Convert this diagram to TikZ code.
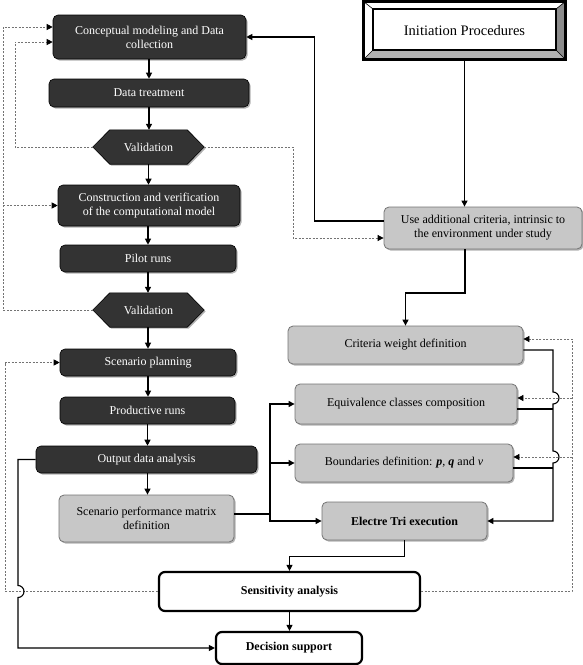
\documentclass[tikz,border=0pt]{standalone}
\usepackage{fontspec}
\setmainfont{Liberation Serif}
\usetikzlibrary{arrows.meta,backgrounds,shadows,calc}
\begin{document}
\begin{tikzpicture}[x=1pt,y=-1pt,
  font=\fontsize{12}{14}\selectfont,
  shad/.style={drop shadow={shadow xshift=1.5pt,shadow yshift=-1.5pt,opacity=0.3,fill=black}},
  darkbox/.style={rectangle,rounded corners=5pt,fill=black!80,draw=black,line width=0.6pt,text=white,inner sep=0pt,align=center,shad},
  lightbox/.style={rectangle,rounded corners=5pt,fill=black!22,draw=black!55,line width=0.8pt,inner sep=0pt,align=center,shad},
  whitebox/.style={rectangle,rounded corners=6pt,fill=white,draw=black,line width=2.2pt,inner sep=0pt,align=center,font=\fontsize{12}{14}\selectfont\bfseries},
  hexnode/.style={inner sep=0pt,text=white,minimum width=111,minimum height=34},
  tip/.style={-{Triangle[length=6pt,width=6pt,color=black]}},
  con/.style={line width=1.1pt,draw=black},
  arr/.style={con,tip},
  dsh/.style={line width=0.8pt,draw=black!55,dash pattern=on 2pt off 1.5pt},
  dsharr/.style={dsh,tip}]
\useasboundingbox (0,0) rectangle (583,665);

% ---------- Initiation Procedures (bevelled frame) ----------
\fill[white] (363.5,1.5) -- (565.5,1.5) -- (556,9) -- (373,9) -- cycle;
\fill[white] (363.5,1.5) -- (373,9) -- (373,50) -- (363.5,59.5) -- cycle;
\fill[black!45] (565.5,1.5) -- (565.5,59.5) -- (556,50) -- (556,9) -- cycle;
\fill[black!30] (363.5,59.5) -- (565.5,59.5) -- (556,50) -- (373,50) -- cycle;
\draw[line width=0.6pt] (363.5,1.5) -- (373,9) (565.5,1.5) -- (556,9)
  (363.5,59.5) -- (373,50) (565.5,59.5) -- (556,50);
\draw[line width=3pt] (363.5,1.5) rectangle (565.5,59.5);
\draw[line width=2pt,fill=white] (373,9) rectangle (556,50);
\node (ip) at (464.5,30.5) [minimum width=202,minimum height=58,inner sep=0pt,
  font=\fontsize{14.5}{16}\selectfont] {Initiation Procedures};

% ---------- left column ----------
\node[darkbox,minimum width=193,minimum height=44] (c1) at (149.5,37) {Conceptual modeling and Data\\collection};
\node[darkbox,minimum width=200,minimum height=28] (dt) at (149,93) {Data treatment};
\node[hexnode] (v1) at (148.5,147) {Validation};
\node[darkbox,minimum width=182,minimum height=41] (cv) at (149,205.5) {Construction and verification\\of the computational model};
\node[darkbox,minimum width=176,minimum height=27] (pr1) at (148,258.5) {Pilot runs};
\node[hexnode] (v2) at (148.5,310) {Validation};
\node[darkbox,minimum width=176,minimum height=27] (sp) at (148,362.5) {Scenario planning};
\node[darkbox,minimum width=175,minimum height=27] (prr) at (147.5,410.5) {Productive runs};
\node[darkbox,minimum width=221,minimum height=27] (oda) at (146.5,459.5) {Output data analysis};
\node[lightbox,minimum width=175,minimum height=47] (spm) at (146.5,518.5) {Scenario performance matrix\\definition};

\begin{scope}[on background layer]
  \foreach \v in {v1,v2}{
    \fill[black!30] ([xshift=1.5pt,yshift=-1.5pt]\v.west) -- ([xshift=18.5pt,yshift=-1.5pt]\v.north west)
      -- ([xshift=-15.5pt,yshift=-1.5pt]\v.north east) -- ([xshift=1.5pt,yshift=-1.5pt]\v.east)
      -- ([xshift=-15.5pt,yshift=-1.5pt]\v.south east) -- ([xshift=18.5pt,yshift=-1.5pt]\v.south west) -- cycle;
    \filldraw[fill=black!80,draw=black,line width=0.6pt] (\v.west) -- ([xshift=17pt]\v.north west)
      -- ([xshift=-17pt]\v.north east) -- (\v.east)
      -- ([xshift=-17pt]\v.south east) -- ([xshift=17pt]\v.south west) -- cycle;
  }
\end{scope}

% ---------- right column ----------
\node[lightbox,minimum width=198,minimum height=42] (uac) at (483,228) {Use additional criteria, intrinsic to\\the environment under study};
\node[lightbox,minimum width=235,minimum height=38] (cwd) at (405.5,345) {Criteria weight definition};
\node[lightbox,minimum width=222,minimum height=40] (ecc) at (406,404) {Equivalence classes composition};
\node[lightbox,minimum width=218,minimum height=38] (bd) at (404,463) {Boundaries definition: \textbf{\textit{p}}, \textbf{\textit{q}} and \textit{v}};
\node[lightbox,minimum width=165,minimum height=38,font=\fontsize{12}{14}\selectfont\bfseries] (et) at (404.5,521) {Electre Tri execution};

% ---------- bottom ----------
\node[whitebox,minimum width=261,minimum height=39] (sa) at (289.5,591.5) {Sensitivity analysis};
\node[whitebox,minimum width=146,minimum height=32] (ds) at (289,648) {Decision support};

% ---------- main column arrows ----------
\draw[arr] (c1.south -| dt.north) -- (dt.north);
\draw[arr] (dt.south) -- (dt.south |- v1.north);
\draw[arr] (v1.south) -- (v1.south |- cv.north);
\draw[arr] (cv.south -| pr1.north) -- (pr1.north);
\draw[arr] (pr1.south) -- (pr1.south |- v2.north);
\draw[arr] (v2.south -| sp.north) -- (sp.north);
\draw[arr] (sp.south) -- (sp.south |- prr.north);
\draw[arr] (prr.south) -- (prr.south |- oda.north);
\draw[arr] (prr.south |- oda.south) -- (prr.south |- spm.north);

% ---------- initiation / additional criteria ----------
\draw[arr] (ip.south) -- (ip.south |- uac.north);
\draw[arr] ([yshift=7pt]uac.west) -- ++(-69,0) |- (c1.east);
\coordinate (k1) at (465,293);
\draw[arr] ([xshift=-18pt]uac.south) -- (k1) -| (cwd.north);

% ---------- dashed feedback ----------
\draw[dsharr] (v1.west) -- (15,147) |- ([yshift=-5pt]c1.west);
\draw[dsharr] (v2.west) -- (3,310) |- ([yshift=10pt]c1.west);
\coordinate (k2) at (3,205.5);
\draw[dsharr] (k2) -- (cv.west);
\draw[dsharr] (v1.east) -- (293,147) |- ([yshift=-10pt]uac.west);
\draw[dsharr] (sa.west) -- (5,591.5) |- (sp.west);
\draw[dsharr] (sa.east) -- (572,591.5) |- ([yshift=6pt]cwd.east);
\coordinate (k3) at (572,398);
\coordinate (k4) at (572,457);
\draw[dsharr] (k3) -- ([yshift=6pt]ecc.east);
\draw[dsharr] (k4) -- ([yshift=6pt]bd.east);

% ---------- solid connections right ----------
\draw[arr] ([yshift=-5pt]cwd.east) -- (553,350) -- (553,392)
  arc[start angle=90,end angle=-90,radius=6pt] -- (553,451)
  arc[start angle=90,end angle=-90,radius=6pt] -- (553,521) -- (et.east);
\draw[con] ([yshift=-5pt]ecc.east) -- (553,409);
\draw[con] ([yshift=-5pt]bd.east) -- (553,468);

\coordinate (k5) at (270,514);
\draw[con] ([yshift=4.5pt]spm.east) -- (k5);
\draw[arr] (k5) |- (ecc.west);
\draw[arr] (k5) |- (bd.west);
\draw[arr] (k5) |- (et.west);

\draw[arr] (oda.west) -- (18,459.5) -- (18,585.5)
  arc[start angle=90,end angle=-90,radius=6pt] -- (18,648) -- (ds.west);

\draw[arr] (et.south) -- ++(0,16) -| (sa.north);
\draw[arr] (sa.south) -- (sa.south |- ds.north);
\end{tikzpicture}
\end{document}
